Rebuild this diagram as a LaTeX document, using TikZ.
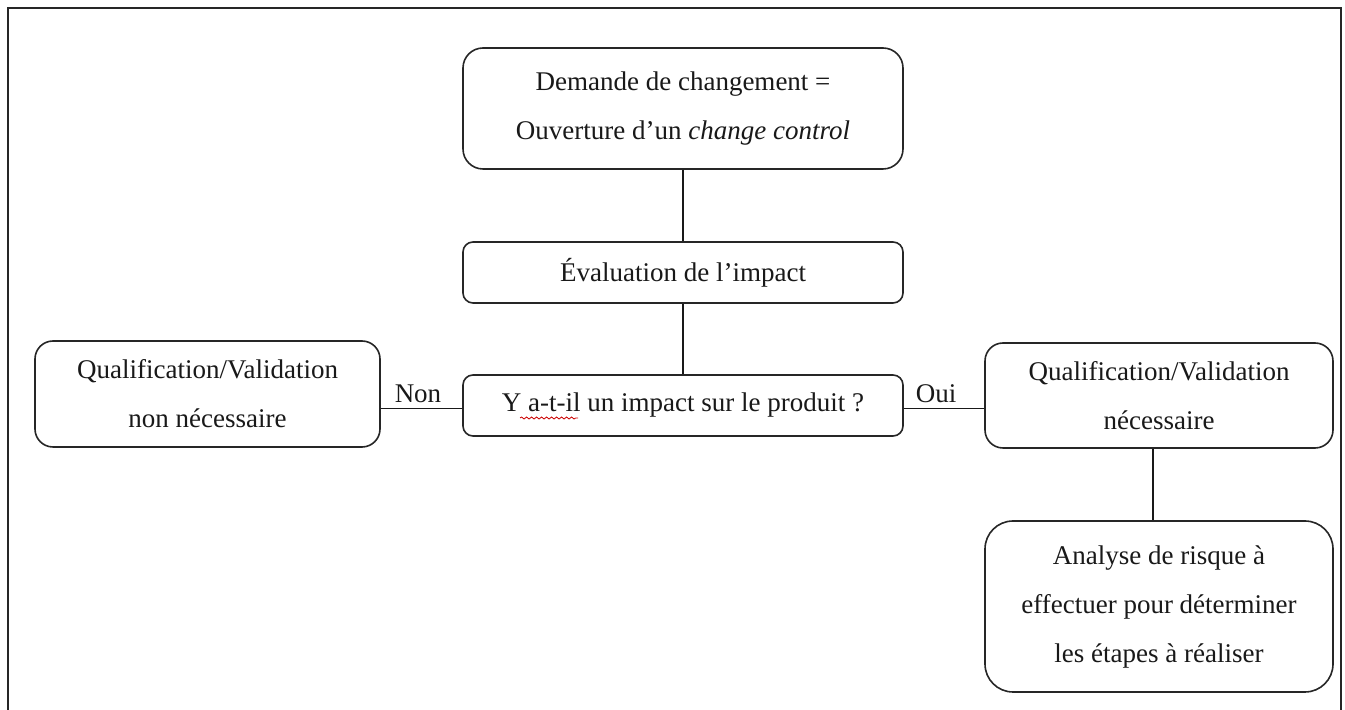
\documentclass[tikz,border=0pt]{standalone}
\usepackage{fontspec}
\setmainfont{Liberation Serif}
\usetikzlibrary{decorations.pathmorphing}
\begin{document}
\begin{tikzpicture}[x=0.5pt,y=-0.5pt,
  box/.style={draw=black!85, line width=0.8pt, fill=white, inner sep=0pt,
    align=center, font=\fontsize{13.5}{24.5}\selectfont, text=black!90},
  conn/.style={draw=black!90, line width=0.8pt},
  lbl/.style={inner sep=0pt, font=\fontsize{13.5}{16}\selectfont, text=black!90}]
\useasboundingbox (0,0) rectangle (1345,710);
\draw[line width=1pt, black!85] (7.5,712) -- (7.5,8) -- (1341,8) -- (1341,712);

\node[box, minimum width=220pt, minimum height=60.5pt, rounded corners=10pt] (top) at (683,108.5)
  {Demande de changement =\\Ouverture d’un \textit{change control}};
\node[box, minimum width=220pt, minimum height=30.5pt, rounded corners=5pt] (eval) at (683,272.5)
  {Évaluation de l’impact};
\node[box, minimum width=220pt, minimum height=30.5pt, rounded corners=5pt] (q) at (683,405.5)
  {Y a-t-il un impact sur le produit ?};
\node[box, minimum width=172.5pt, minimum height=53pt, rounded corners=9pt] (left) at (207.5,394)
  {Qualification/Validation\\non nécessaire};
\node[box, minimum width=174pt, minimum height=52.5pt, rounded corners=9pt] (right) at (1159,395.5)
  {Qualification/Validation\\nécessaire};
\node[box, minimum width=174pt, minimum height=85.5pt, rounded corners=14pt] (risk) at (1159,606.5)
  {Analyse de risque à\\effectuer pour déterminer\\les étapes à réaliser};

\draw[conn] (top.south) -- (eval.north);
\draw[conn] (eval.south) -- (q.north);
\draw[conn] ([yshift=-1.5pt]q.west) -- ([yshift=-1.5pt]q.west -| left.east);
\draw[conn] ([yshift=-1.5pt]q.east) -- ([yshift=-1.5pt]q.east -| right.west);
\draw[conn] ([xshift=-3pt]right.south) -- ([xshift=-3pt]risk.north);

\node[lbl, anchor=base] (non) at (418,403) {Non};
\node[lbl, anchor=base] (oui) at (936,403) {Oui};

\draw[red!80!black, line width=0.4pt, decorate,
  decoration={snake, amplitude=0.5pt, segment length=2.5pt}] (520,418) -- (578,418);
\end{tikzpicture}
\end{document}
